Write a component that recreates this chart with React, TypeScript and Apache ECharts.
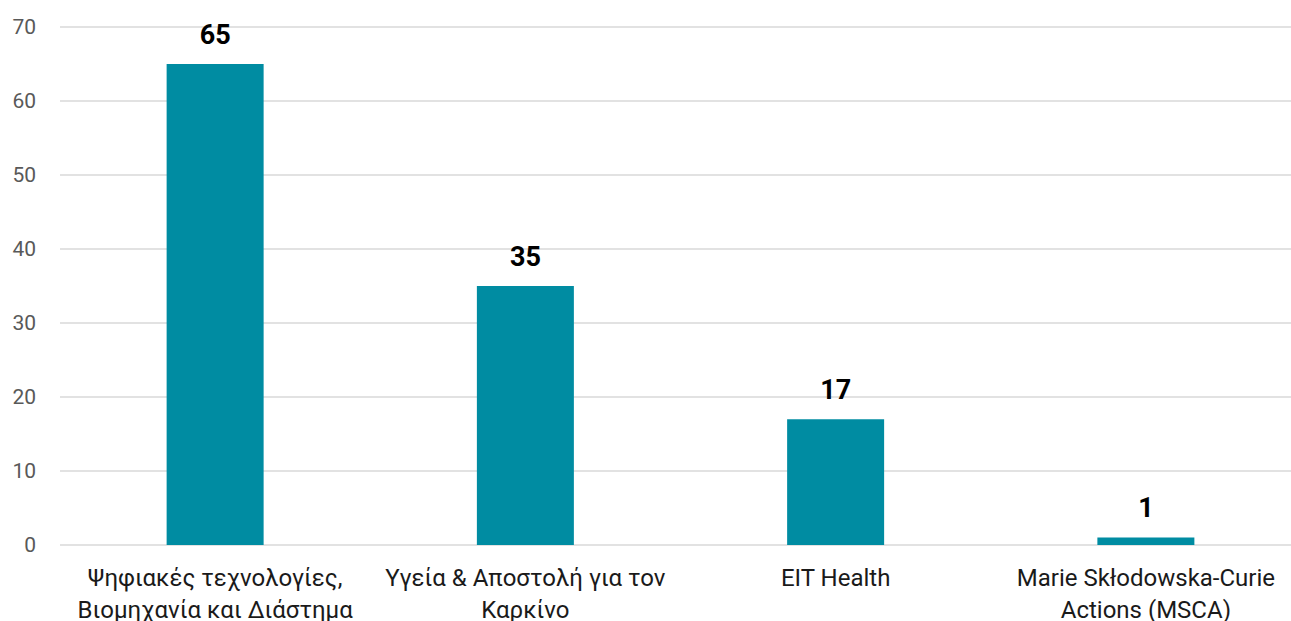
import React, { useEffect, useRef } from "react";
import * as echarts from "echarts";

const categories = [
  "Ψηφιακές τεχνολογίες, Βιομηχανία και Διάστημα",
  "Υγεία & Αποστολή για τον Καρκίνο",
  "EIT Health",
  "Marie Skłodowska-Curie Actions (MSCA)",
];
const values = [65, 35, 17, 1];
const yTicks = { min: 0, max: 70, interval: 10 };

const wrap = (s: string, maxChars: number) => {
  const words = s.split(" ");
  const lines: string[] = [];
  let cur = "";
  for (const w of words) {
    const next = cur ? cur + " " + w : w;
    if (next.length > maxChars && cur) {
      lines.push(cur);
      cur = w;
    } else cur = next;
  }
  if (cur) lines.push(cur);
  return lines.join("\n");
};

export default function App() {
  const ref = useRef<HTMLDivElement>(null);
  useEffect(() => {
    if (!ref.current) return;
    const chart = echarts.init(ref.current, null, { renderer: "svg" });
    chart.setOption({
      animation: false,
      grid: {
        left: 60,
        right: -10,
        top: 27,
        bottom: 76,
        containLabel: false,
        outerBoundsMode: "none",
      },
      xAxis: {
        type: "category",
        data: categories,
        axisLine: { show: false },
        axisTick: { show: false },
        axisLabel: {
          interval: 0,
          margin: 17,
          fontSize: 24,
          lineHeight: 32,
          color: "#1a1a1a",
          fontFamily: "Roboto",
          hideOverlap: false,
          formatter: (v: string) => wrap(v, 24),
        },
      },
      yAxis: {
        type: "value",
        min: yTicks.min,
        max: yTicks.max,
        interval: yTicks.interval,
        axisLine: { show: false },
        axisTick: { show: false },
        axisLabel: {
          margin: 24,
          fontSize: 21,
          color: "#595959",
          fontFamily: "Roboto",
        },
        splitLine: { lineStyle: { color: "#d9d9d9", width: 1.5 } },
      },
      series: [
        {
          type: "bar",
          data: values,
          barWidth: 97,
          itemStyle: { color: "#008ca2" },
          label: {
            show: true,
            position: "top",
            distance: 16,
            fontSize: 27,
            fontWeight: "bold",
            color: "#000",
            fontFamily: "Roboto",
          },
        },
      ],
    });
    return () => chart.dispose();
  }, []);
  return (
    <div
      ref={ref}
      style={{ position: "fixed", left: 0, top: 0, width: 1291, height: 621, background: "#fff" }}
    />
  );
}
